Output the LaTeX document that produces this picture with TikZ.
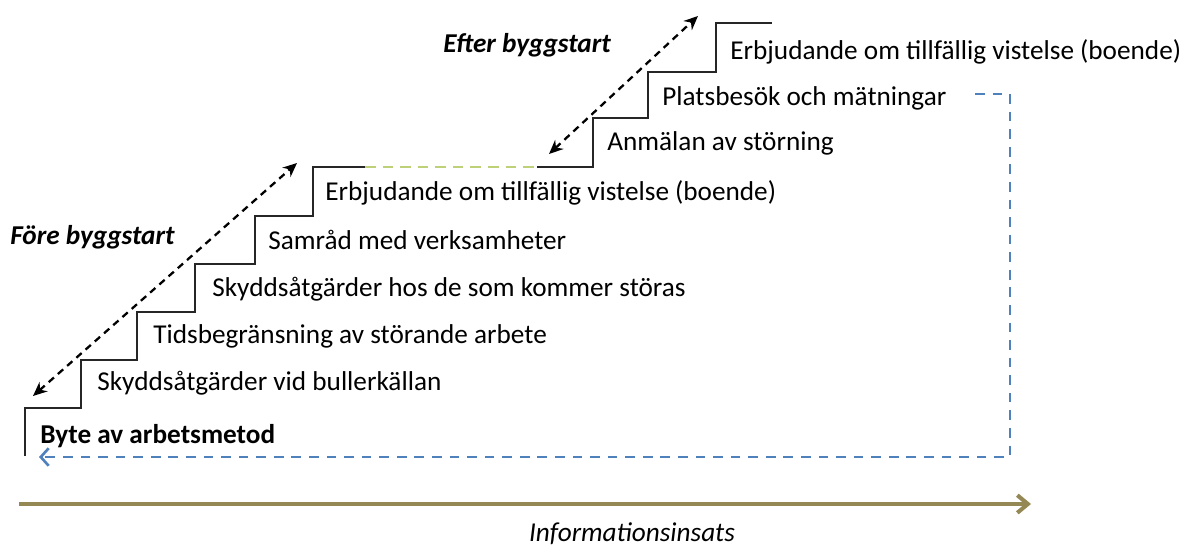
\documentclass[tikz,border=0pt]{standalone}
\usepackage{fontspec}
\setmainfont{Carlito}
\usetikzlibrary{arrows.meta}
\definecolor{loopblue}{RGB}{79,129,189}
\definecolor{infoolive}{RGB}{148,137,84}
\definecolor{gapgreen}{RGB}{190,208,120}
\begin{document}
\begin{tikzpicture}[x=0.02cm, y=-0.02cm, every node/.style={font=\fontsize{15.5}{18}\selectfont},
  steptxt/.style={anchor=west, inner sep=0pt},
  phase/.style={anchor=west, inner sep=0pt, font=\fontsize{15.5}{18}\selectfont\bfseries\itshape},
  stair/.style={line width=1.2pt, black!85, line join=miter},
  span/.style={line width=1.3pt, dash pattern=on 4pt off 3pt, {Stealth[length=8pt,width=7pt]}-{Stealth[length=8pt,width=7pt]}},
  loopback/.style={line width=1.5pt, loopblue, dash pattern=on 5.5pt off 4.5pt, -{Straight Barb[length=4.5pt,width=10pt]}},
  infoarrow/.style={line width=2.3pt, infoolive, -{Straight Barb[length=6pt,width=10pt]}}]
\useasboundingbox (0,0) rectangle (1192,548);
% trappan
\draw[stair] (25,456) -- (25,408) -- (81,408) -- (81,360) -- (137,360) -- (137,312)
  -- (195,312) -- (195,264) -- (255,264) -- (255,216) -- (313,216) -- (313,167) -- (365,167);
\draw[line width=1.3pt, gapgreen, dash pattern=on 6pt off 4pt] (365,167) -- (537,167);
\draw[stair] (537,167) -- (593,167) -- (593,118) -- (648,118) -- (648,72) -- (716,72) -- (716,23) -- (772,23);
% stegen
\node[steptxt, font=\fontsize{15.5}{18}\selectfont\bfseries] (byte) at (40,436) {Byte av arbetsmetod};
\node[steptxt] (skydd) at (97,383) {Skyddsåtgärder vid bullerkällan};
\node[steptxt] (tids) at (153,336) {Tidsbegränsning av störande arbete};
\node[steptxt] (hos) at (212,289) {Skyddsåtgärder hos de som kommer störas};
\node[steptxt] (samrad) at (268,240) {Samråd med verksamheter};
\node[steptxt] (erbjA) at (325,193) {Erbjudande om tillfällig vistelse (boende)};
\node[steptxt] (anm) at (607,143) {Anmälan av störning};
\node[steptxt] (plats) at (662,98) {Platsbesök och mätningar};
\node[steptxt] (erbjB) at (730,52) {Erbjudande om tillfällig vistelse (boende)};
% faser
\node[phase] (fore) at (10,237) {Före byggstart};
\node[phase] (efter) at (443,45) {Efter byggstart};
\coordinate (foreLo) at (33,396);
\coordinate (foreHi) at (297,163);
\coordinate (efterLo) at (549,154);
\coordinate (efterHi) at (698,16);
\draw[span] (foreLo) -- (foreHi);
\draw[span] (efterLo) -- (efterHi);
% tillbaka till start
\coordinate (loopStart) at (975,94);
\coordinate (loopTop) at (1010,94);
\coordinate (loopBot) at (1010,457);
\coordinate (loopEnd) at (39,457);
\draw[loopback] (loopStart) -- (loopTop) -- (loopBot) -- (loopEnd);
% information
\coordinate (infoA) at (19,504);
\coordinate (infoB) at (1031,504);
\draw[infoarrow] (infoA) -- (infoB);
\node[font=\fontsize{15.5}{18}\selectfont\itshape] (info) at (632,534) {Informationsinsats};
\end{tikzpicture}
\end{document}
